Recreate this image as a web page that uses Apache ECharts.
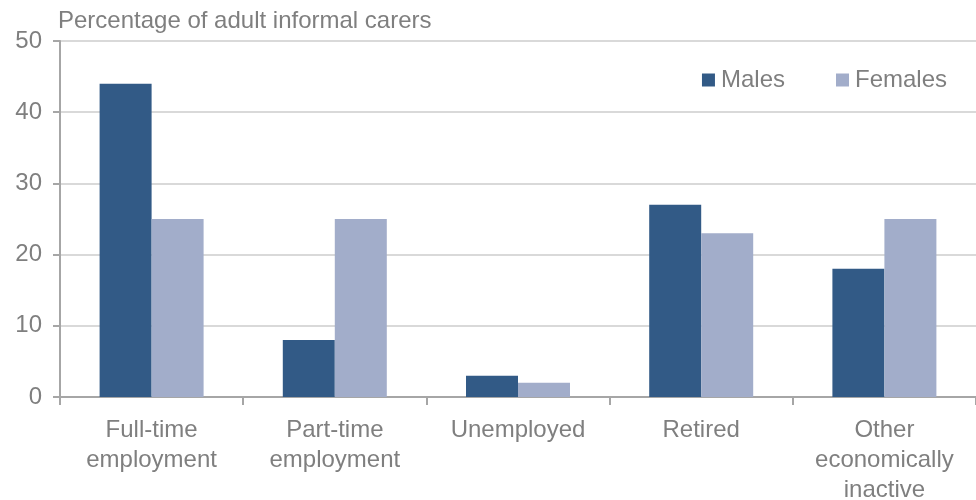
<!DOCTYPE html>
<html><head><meta charset="utf-8">
<script src="https://cdn.jsdelivr.net/npm/echarts@6/dist/echarts.min.js"></script>
<style>html,body{margin:0;padding:0;background:#fff}#c{width:976px;height:500px}</style>
</head><body><div id="c"></div>
<script>
const categories = ["Full-time\nemployment", "Part-time\nemployment", "Unemployed", "Retired", "Other\neconomically\ninactive"];
const males = [44, 8, 3, 27, 18];
const females = [25, 25, 2, 23, 25];
const yTitle = "Percentage of adult informal carers";

const chart = echarts.init(document.getElementById('c'), null, {renderer: 'canvas'});
const txt = '#7f7f7f';
const ff = 'Liberation Sans, Arial, sans-serif';
chart.setOption({
  animation: false,
  backgroundColor: '#fff',
  textStyle: {fontFamily: ff},
  grid: {left: 60, right: 0, top: 41, bottom: 103, containLabel: false, outerBoundsMode: 'none'},
  legend: {
    right: 24, top: 63, itemWidth: 13, itemHeight: 13, itemGap: 51,
    icon: 'rect',
    textStyle: {color: txt, fontSize: 24, fontFamily: ff, padding: [0,0,0,1]},
    data: ['Males', 'Females']
  },
  xAxis: {
    type: 'category', data: categories,
    axisLine: {lineStyle: {color: '#a6a6a6', width: 2}},
    axisTick: {show: true, length: 8, lineStyle: {color: '#a6a6a6', width: 2}},
    axisLabel: {color: txt, fontSize: 24, lineHeight: 30, margin: 18, interval: 0, fontFamily: ff},
  },
  yAxis: {
    type: 'value', min: 0, max: 50, interval: 10,
    name: yTitle, nameLocation: 'end', nameGap: 8,
    nameTextStyle: {color: txt, fontSize: 24, align: 'left', fontFamily: ff, padding: [0,0,0,-2]},
    axisLine: {show: true, lineStyle: {color: '#a6a6a6', width: 2}},
    axisTick: {show: true, length: 7, lineStyle: {color: '#a6a6a6', width: 2}},
    axisLabel: {color: txt, fontSize: 24, margin: 18, fontFamily: ff},
    splitLine: {lineStyle: {color: '#d9d9d9', width: 2}}
  },
  series: [
    {name: 'Males', type: 'bar', data: males, barWidth: 52, barGap: '0%', itemStyle: {color: '#325a86'}},
    {name: 'Females', type: 'bar', data: females, barWidth: 52, barGap: '0%', itemStyle: {color: '#a2adca'}}
  ]
});
</script></body></html>
